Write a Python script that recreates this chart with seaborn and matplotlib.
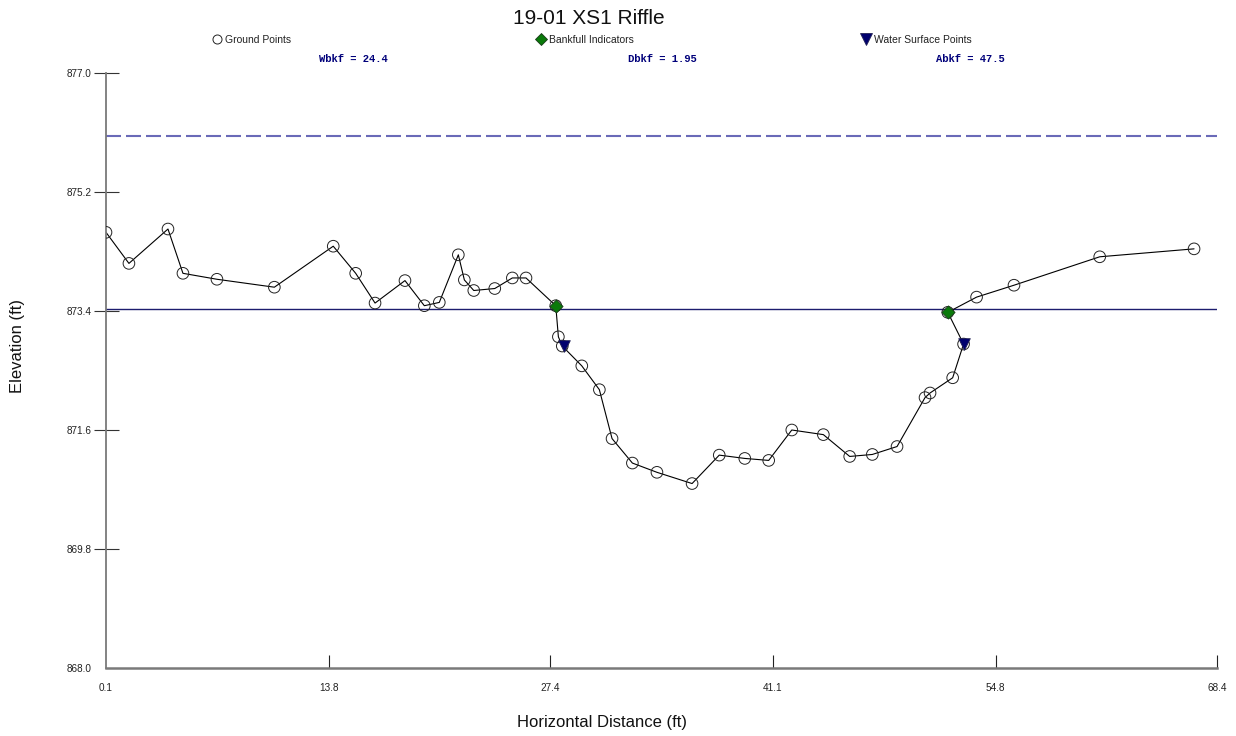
import matplotlib
matplotlib.use("Agg")
import matplotlib.pyplot as plt
from matplotlib.lines import Line2D
import seaborn as sns
import pandas as pd

# Surveyed cross-section: station (ft) and ground elevation (ft)
ground_x = [0.1, 1.51, 3.91, 4.83, 6.92, 10.45, 14.07, 15.45, 16.64, 18.48,
            19.67, 20.59, 21.76, 22.13, 22.71, 24.00, 25.08, 25.92, 27.75, 27.91,
            28.15, 29.35, 30.43, 31.21, 32.46, 33.97, 36.13, 37.80, 39.37, 40.84,
            42.26, 44.20, 45.82, 47.21, 48.73, 50.45, 50.76, 52.15, 52.82, 51.85,
            53.62, 55.92, 61.19, 66.99]
ground_y = [874.59, 874.12, 874.64, 873.97, 873.88, 873.76, 874.38, 873.97, 873.52, 873.86,
            873.48, 873.53, 874.25, 873.87, 873.71, 873.74, 873.90, 873.90, 873.48, 873.01,
            872.87, 872.57, 872.21, 871.47, 871.10, 870.96, 870.79, 871.22, 871.17, 871.14,
            871.60, 871.53, 871.20, 871.23, 871.35, 872.09, 872.16, 872.39, 872.90, 873.38,
            873.61, 873.79, 874.22, 874.34]

bankfull_x = [27.75, 51.85]
bankfull_y = [873.48, 873.38]

water_x = [28.26, 52.82]
water_y = [872.875, 872.90]

bkf_elev = 873.43          # bankfull stage
flood_prone_elev = 876.05  # flood-prone stage

stat_labels = ["Wbkf = 24.4", "Dbkf = 1.95", "Abkf = 47.5"]
legend_labels = ["Ground Points", "Bankfull Indicators", "Water Surface Points"]

x_ticks = [0.1, 13.8, 27.4, 41.1, 54.8, 68.4]
y_ticks = [868.0, 869.8, 871.6, 873.4, 875.2, 877.0]

sns.set_style("white")
plt.rcParams["font.family"] = ["Liberation Sans", "DejaVu Sans"]

W, H = 1236, 736
fig = plt.figure(figsize=(W / 100, H / 100), dpi=100)
ax = fig.add_axes([106 / W, 1 - 668 / H, (1217 - 106) / W, (668 - 73) / H])

ground = pd.DataFrame({"x": ground_x, "y": ground_y})
bankfull = pd.DataFrame({"x": bankfull_x, "y": bankfull_y})
water = pd.DataFrame({"x": water_x, "y": water_y})

# reference stages
ax.axhline(flood_prone_elev, color="#6a6ab8", lw=1.5, linestyle=(0, (7.2, 2.4)), zorder=1)
ax.axhline(bkf_elev, color="#1c1c6e", lw=1.0, zorder=1)

# ground profile
sns.lineplot(data=ground, x="x", y="y", sort=False, estimator=None,
             color="black", lw=0.8, ax=ax, zorder=2)
sns.scatterplot(data=ground, x="x", y="y", marker="o", s=70, color="white",
                edgecolor="#222222", linewidth=0.7, ax=ax, zorder=3)
ax.collections[-1].set_facecolor("none")

sns.scatterplot(data=bankfull, x="x", y="y", marker="D", s=45, color="#0a7a0a",
                edgecolor="#1a3a1a", linewidth=0.6, ax=ax, zorder=4)
sns.scatterplot(data=water, x="x", y="y", marker="v", s=70, color="#00006e",
                edgecolor="#222255", linewidth=0.6, ax=ax, zorder=5)

ax.set_xlim(x_ticks[0], x_ticks[-1])
ax.set_ylim(y_ticks[0], y_ticks[-1])
ax.set_xticks(x_ticks)
ax.set_yticks(y_ticks)
ax.set_xticklabels([f"{v:.1f}" for v in x_ticks])
ax.set_yticklabels([f"{v:.1f}" for v in y_ticks])
ax.tick_params(axis="x", bottom=True, direction="in", length=9.4, width=0.8,
               color="#222222", labelsize=7.2, labelcolor="#222222", pad=11)
ax.tick_params(axis="y", left=True, direction="inout", length=18, width=0.8,
               color="#333333", labelsize=7.2, labelcolor="#222222", pad=1.5)
ax.xaxis.get_major_ticks()[0].tick1line.set_visible(False)
ax.yaxis.get_major_ticks()[0].tick1line.set_visible(False)

for side in ["top", "right"]:
    ax.spines[side].set_visible(False)
ax.spines["left"].set_color("#7a7a7a")
ax.spines["left"].set_linewidth(1.3)
ax.spines["bottom"].set_color("#7a7a7a")
ax.spines["bottom"].set_linewidth(1.8)

ax.set_xlabel("")
ax.set_ylabel("")
fig.text(602 / W, 1 - 722 / H, "Horizontal Distance (ft)", ha="center", va="center",
         fontsize=12, color="#111111")
fig.text(18 / W, 1 - 346 / H, "Elevation (ft)", ha="center", va="center",
         rotation=90, fontsize=12, color="#111111")
fig.text(589 / W, 1 - 19 / H, "19-01 XS1 Riffle", ha="center", va="center",
         fontsize=15, color="#111111")

# legend row
handles = [
    Line2D([], [], ls="", marker="o", ms=6.5, mfc="none", mec="#222222", mew=0.7),
    Line2D([], [], ls="", marker="D", ms=6, mfc="#0a7a0a", mec="#1a3a1a", mew=0.6),
    Line2D([], [], ls="", marker="v", ms=8, mfc="#00006e", mec="#222255", mew=0.6),
]
marker_px = [217, 541, 866]
for h, lab, mx in zip(handles, legend_labels, marker_px):
    leg = fig.legend([h], [lab], loc="center left",
                     bbox_to_anchor=((mx - 5.2) / W, 1 - 40 / H),
                     frameon=False, fontsize=7.5, handlelength=1.0,
                     handletextpad=0.3, borderpad=0, borderaxespad=0)
    for t in leg.get_texts():
        t.set_color("#222222")

# bankfull statistics
for lab, cx in zip(stat_labels, [353, 662, 970]):
    fig.text(cx / W, 1 - 59 / H, lab, ha="center", va="center", fontsize=7.6,
             fontweight="bold", family=["Liberation Mono", "DejaVu Sans Mono"],
             color="#00007a")

fig.savefig("out.png", dpi=100)
